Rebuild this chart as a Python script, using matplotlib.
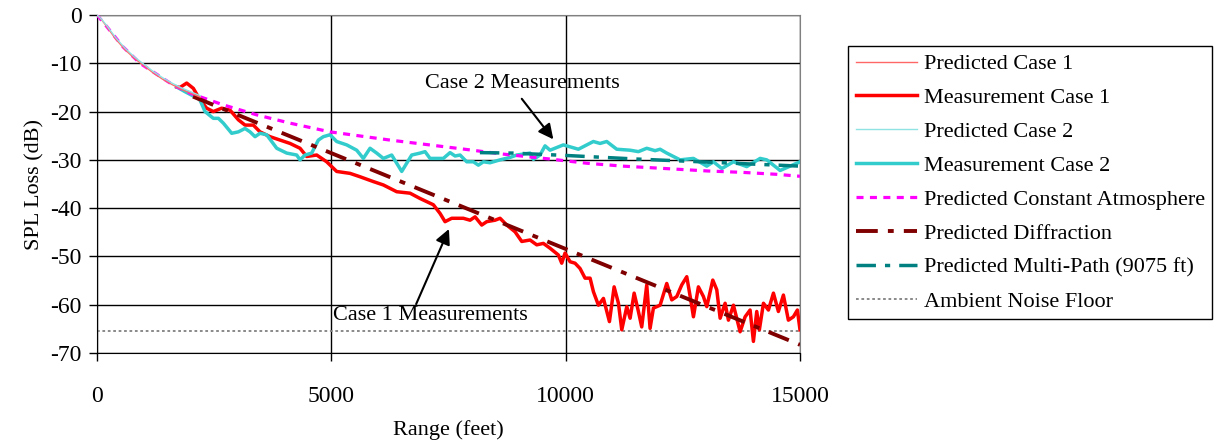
import matplotlib.pyplot as plt

plt.rcParams['font.family'] = ['Liberation Serif', 'DejaVu Serif']
plt.rcParams['axes.unicode_minus'] = False

# ---- data (range in feet, SPL loss in dB) ----
pred_range = [0, 100, 200, 400, 600, 800, 1000, 1200, 1400, 1600, 1800, 2000, 2200]
pred_case1 = [0, -1.0, -2.3, -5.0, -7.2, -9.0, -10.5, -12.0, -13.3, -14.4, -15.4, -16.2, -17.0]
pred_case2 = [0, -0.9, -2.1, -4.7, -6.9, -8.7, -10.2, -11.7, -13.0, -14.1, -15.1, -15.9, -16.7]

meas1_range = [1700, 1771, 1914, 2056, 2198, 2340, 2482, 2660, 2838, 3016, 3158, 3336, 3478,
               3692, 3905, 4119, 4332, 4474, 4688, 4901, 5114, 5399, 5612, 5897, 6110, 6395,
               6679, 6893, 7177, 7320, 7426, 7569, 7817, 7960, 8067, 8209, 8316, 8493, 8600,
               8743, 8920, 9063, 9240, 9383, 9524, 9667, 9844, 9916, 9987, 10094, 10200,
               10307, 10414, 10521, 10592, 10699, 10806, 10934, 11034, 11126, 11197, 11304,
               11375, 11461, 11552, 11623, 11730, 11801, 11872, 12015, 12157, 12264, 12371,
               12477, 12584, 12669, 12726, 12832, 12939, 13011, 13139, 13224, 13296, 13402,
               13473, 13580, 13722, 13829, 13935, 14006, 14077, 14133, 14220, 14326, 14433,
               14539, 14646, 14752, 14859, 14944, 15000]
meas1_loss = [-14.9, -15.0, -14.1, -15.2, -17.6, -19.3, -20.0, -19.3, -19.7, -21.7, -22.8, -22.8,
              -24.2, -25.2, -25.9, -26.6, -27.6, -29.3, -29.0, -30.4, -32.4, -32.8, -33.5, -34.5,
              -35.2, -36.6, -36.9, -38.0, -39.3, -41.1, -42.8, -42.1, -42.1, -42.5, -41.8, -43.5,
              -42.8, -42.5, -42.1, -43.5, -44.9, -46.9, -46.6, -47.6, -47.3, -48.3, -49.7, -51.4,
              -49.3, -51.1, -51.4, -52.5, -54.5, -54.5, -57.3, -60.1, -58.7, -63.5, -56.3, -59.7,
              -65.2, -60.4, -62.8, -57.6, -61.4, -64.6, -55.9, -64.9, -60.7, -60.1, -55.6, -59.0,
              -58.3, -55.9, -54.2, -59.0, -62.5, -56.3, -58.3, -60.4, -54.9, -56.9, -62.8, -59.7,
              -63.2, -60.1, -65.6, -62.5, -61.1, -67.6, -61.4, -65.2, -59.7, -61.1, -57.6, -61.4,
              -58.0, -63.2, -62.5, -61.1, -65.2]

meas2_range = [1700, 1900, 2100, 2198, 2305, 2482, 2590, 2696, 2874, 3016, 3158, 3265, 3372,
               3478, 3620, 3835, 4048, 4261, 4332, 4439, 4581, 4723, 4830, 4972, 5114, 5328,
               5541, 5683, 5826, 5968, 6110, 6288, 6395, 6502, 6608, 6715, 6893, 7000, 7106,
               7390, 7533, 7640, 7747, 7889, 8031, 8137, 8244, 8386, 8600, 8813, 8956, 9240,
               9311, 9453, 9560, 9667, 9951, 10271, 10591, 10734, 10876, 11090, 11374, 11552,
               11730, 11908, 12015, 12157, 12441, 12726, 13011, 13153, 13331, 13580, 13864,
               14149, 14291, 14576, 14789, 15000]
meas2_loss = [-14.9, -16.0, -17.0, -17.6, -20.0, -21.4, -21.4, -22.4, -24.5, -24.2, -23.5, -24.2,
              -25.2, -24.5, -24.8, -27.6, -28.6, -29.0, -30.0, -29.0, -28.6, -25.9, -25.2, -24.8,
              -26.2, -26.9, -28.0, -29.7, -27.6, -28.6, -29.7, -29.0, -30.7, -32.4, -30.7, -29.0,
              -28.6, -28.3, -29.7, -29.7, -28.5, -29.2, -29.0, -30.4, -30.4, -31.1, -30.4, -30.6,
              -30.0, -29.5, -29.0, -28.6, -29.9, -29.0, -27.1, -28.0, -26.9, -27.8, -26.2, -26.6,
              -26.2, -27.8, -28.0, -28.3, -27.6, -28.1, -27.8, -28.6, -30.0, -29.7, -31.3, -30.4,
              -31.8, -30.4, -31.4, -29.7, -30.0, -32.2, -31.3, -30.4]

const_range = [0, 200, 555, 918, 1622, 1985, 2690, 3414, 4120, 4970, 6250, 7680, 8660, 9730,
               10450, 11220, 11950, 13020, 13790, 14510, 15000]
const_loss = [0, -2.3, -6.6, -10.0, -14.5, -16.2, -18.6, -20.7, -22.4, -24.2, -25.9, -27.6,
              -28.8, -29.9, -30.7, -31.3, -31.7, -32.3, -32.6, -33.0, -33.4]

diff_range = [2050, 15000]
diff_loss = [-16.9, -68.3]

multi_range = [8170, 8880, 10030, 11440, 12870, 15000]
multi_loss = [-28.5, -28.6, -29.1, -29.8, -30.4, -31.3]

noise_range = [0, 15000]
noise_loss = [-65.4, -65.4]

# ---- figure ----
fig = plt.figure(figsize=(12.15, 4.44), dpi=100)
ax = fig.add_axes([97 / 1215, 1 - 353 / 444, 703 / 1215, 338 / 444])

ax.plot(noise_range, noise_loss, color='#808080', lw=1.3, ls=(0, (1.5, 1.5)),
        label='Ambient Noise Floor', zorder=2)
ax.plot(meas1_range, meas1_loss, color='#ff0000', lw=2.5, label='Measurement Case 1', zorder=3)
ax.plot(meas2_range, meas2_loss, color='#33cccc', lw=2.5, label='Measurement Case 2', zorder=3)
ax.plot(const_range, const_loss, color='#ff00ff', lw=2.3, ls=(0, (2.2, 2.0)),
        label='Predicted Constant Atmosphere', zorder=4)
ax.plot(diff_range, diff_loss, color='#800000', lw=2.8, ls=(0, (5.6, 2.6, 1.5, 2.6)),
        label='Predicted Diffraction', zorder=4)
ax.plot(multi_range, multi_loss, color='#008080', lw=2.5, ls=(0, (5.6, 2.6, 1.5, 2.6)),
        label='Predicted Multi-Path (9075 ft)', zorder=4)
ax.plot(pred_range, pred_case1, color='#ff6666', lw=1.0, label='Predicted Case 1', zorder=5)
ax.plot(pred_range, pred_case2, color='#8fe3e3', lw=1.0, label='Predicted Case 2', zorder=5)

ax.set_xlim(0, 15000)
ax.set_ylim(-70, 0)
ax.set_xticks([0, 5000, 10000, 15000])
ax.set_yticks(range(-70, 1, 10))
ax.grid(True, color='black', lw=1.0)
ax.set_axisbelow(True)
for side in ['top', 'right']:
    ax.spines[side].set_color('#808080')
ax.tick_params(axis='both', labelsize=17, direction='out', length=6, width=1)
ax.tick_params(axis='x', pad=18)
ax.tick_params(axis='y', pad=5)
ax.set_xlabel('Range (feet)', fontsize=16, labelpad=9)
ax.set_ylabel('SPL Loss (dB)', fontsize=16, labelpad=4)

# annotations
ax.text(9070, -14.1, 'Case 2 Measurements', fontsize=16, ha='center', va='center')
ax.annotate('', xy=(9773, -26.2), xytext=(9027, -16.9),
            arrowprops=dict(arrowstyle='-|>,head_length=0.9,head_width=0.45',
                            color='black', lw=1.5))
ax.text(7107, -62.3, 'Case 1 Measurements', fontsize=16, ha='center', va='center')
ax.annotate('', xy=(7533, -43.8), xytext=(6786, -60.4),
            arrowprops=dict(arrowstyle='-|>,head_length=0.9,head_width=0.45',
                            color='black', lw=1.5))

# legend in the reference order
order = ['Predicted Case 1', 'Measurement Case 1', 'Predicted Case 2', 'Measurement Case 2',
         'Predicted Constant Atmosphere', 'Predicted Diffraction',
         'Predicted Multi-Path (9075 ft)', 'Ambient Noise Floor']
handles, labels = ax.get_legend_handles_labels()
lookup = dict(zip(labels, handles))
leg = fig.legend([lookup[k] for k in order], order, loc='upper left',
                 bbox_to_anchor=(848 / 1215, 1 - 46 / 444), fontsize=16,
                 frameon=True, fancybox=False, edgecolor='black', framealpha=1,
                 handlelength=2.75, handletextpad=0.3, labelspacing=0.6,
                 borderpad=0.35, borderaxespad=0)
leg.get_frame().set_linewidth(1.0)

plt.savefig('out.png', dpi=100)
